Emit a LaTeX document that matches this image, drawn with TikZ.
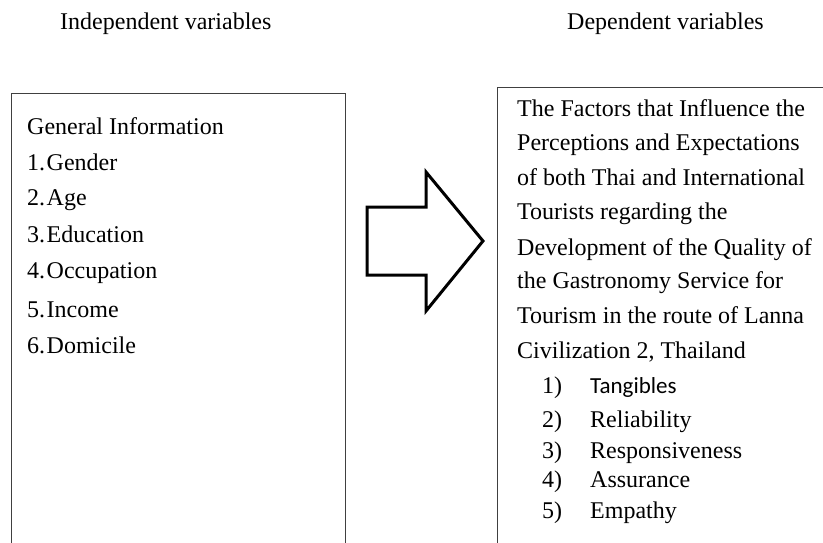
\documentclass[tikz,border=0pt]{standalone}
\usepackage{fontspec}
\setmainfont{Liberation Serif}
\newfontfamily\sansitem{Carlito}
\begin{document}
\begin{tikzpicture}[x=1pt,y=-1pt,
  txt/.style={anchor=base west, inner sep=0pt, font=\fontsize{24}{29}\selectfont},
  sanstxt/.style={anchor=base west, inner sep=0pt, font=\sansitem\fontsize{23}{28}\selectfont},
  boxline/.style={draw=black!75, line width=1.3pt, rectangle, anchor=north west, inner sep=0pt},
  blockarrow/.style={draw=black, line width=3pt, fill=white, line join=miter}]
\useasboundingbox (0,0) rectangle (823,543);
\clip (0,0) rectangle (823,543);
% titles
\node[txt] (indtitle) at (60,30) {Independent variables};
\node[txt] (deptitle) at (567,30) {Dependent variables};
% boxes
\node[boxline, minimum width=334pt, minimum height=520pt] (leftbox) at (11,93) {};
\node[boxline, minimum width=400pt, minimum height=520pt] (rightbox) at (497,87) {};
% left text
\node[txt] (gen) at (27,135) {General Information};
\node[txt] (l1) at (27,170) {1.\hspace{1.5pt}Gender};
\node[txt] (l2) at (27,205) {2.\hspace{1.5pt}Age};
\node[txt] (l3) at (27,242) {3.\hspace{1.5pt}Education};
\node[txt] (l4) at (27,278) {4.\hspace{1.5pt}Occupation};
\node[txt] (l5) at (27,317) {5.\hspace{1.5pt}Income};
\node[txt] (l6) at (27,353) {6.\hspace{1.5pt}Domicile};
% block arrow
\draw[blockarrow] (367,207) -- (426,207) -- (426,172) -- (483,241) -- (426,311) -- (426,275) -- (367,275) -- cycle;
% right text
\node[txt] (r1) at (517,117) {The Factors that Influence the};
\node[txt] (r2) at (517,150) {Perceptions and Expectations};
\node[txt] (r3) at (517,185) {of both Thai and International};
\node[txt] (r4) at (517,219) {Tourists regarding the};
\node[txt] (r5) at (517,255) {Development of the Quality of};
\node[txt] (r6) at (517,288) {the Gastronomy Service for};
\node[txt] (r7) at (517,323) {Tourism in the route of Lanna};
\node[txt] (r8) at (517,358) {Civilization 2, Thailand};
% factor list
\node[txt] (n1) at (542,393) {1)};
\node[sanstxt] (f1) at (590,393) {Tangibles};
\node[txt] (n2) at (542,427) {2)};
\node[txt] (f2) at (590,427) {Reliability};
\node[txt] (n3) at (542,458) {3)};
\node[txt] (f3) at (590,458) {Responsiveness};
\node[txt] (n4) at (542,487) {4)};
\node[txt] (f4) at (590,487) {Assurance};
\node[txt] (n5) at (542,518) {5)};
\node[txt] (f5) at (590,518) {Empathy};
\end{tikzpicture}
\end{document}
